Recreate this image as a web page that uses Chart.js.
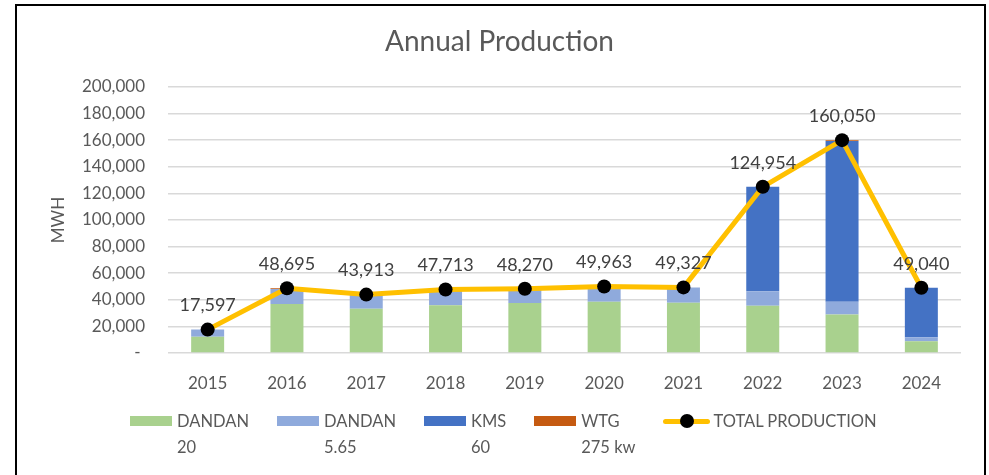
<!DOCTYPE html>
<html>
<head>
<meta charset="utf-8">
<script src="https://cdn.jsdelivr.net/npm/chart.js@4"></script>
<style>
    body { margin: 0; background: #fff; font-family: Lato, sans-serif; }
    #wrap { position: relative; width: 989px; height: 475px; overflow: hidden; }
    #frame { position: absolute; left: 15px; top: 4px; width: 967px; height: 490px; border: 2px solid #000; box-sizing: content-box; pointer-events: none; }
    #chartBox { position: absolute; left: 0; top: 0; width: 989px; height: 475px; }
    #legend { position: absolute; left: 130px; top: 410px; display: flex; gap: 28px; color: #595959; font-size: 16.5px; }
    .item { display: flex; align-items: flex-start; }
    .swatch { width: 42px; height: 10px; margin: 6px 5px 0 0; }
    .lineKey { position: relative; width: 47px; height: 22px; margin-right: 3px; }
    .lineKey .ln { position: absolute; left: 0; right: 0; top: 9px; height: 5px; background: #ffc000; border-radius: 3px; }
    .lineKey .dot { position: absolute; left: 17px; top: 4px; width: 14px; height: 14px; border-radius: 50%; background: #000; }
    .txt { line-height: 26px; margin-top: -2px; }
</style>
</head>
<body>
<div id="wrap">
    <div id="chartBox"><canvas id="prodChart"></canvas></div>
    <div id="legend"></div>
    <div id="frame"></div>
</div>
<script>
const years = ['2015', '2016', '2017', '2018', '2019', '2020', '2021', '2022', '2023', '2024'];

const dandan20 = [12300, 36900, 33300, 35900, 37550, 38500, 37800, 35500, 29000, 8800];
const dandan565 = [5297, 11295, 10613, 11813, 10720, 11463, 11527, 10900, 9500, 3000];
const kms = [0, 0, 0, 0, 0, 0, 0, 78554, 120850, 37240];
const wtg = [0, 500, 0, 0, 0, 0, 0, 0, 700, 0];
const totalProduction = [17597, 48695, 43913, 47713, 48270, 49963, 49327, 124954, 160050, 49040];

const yTicks = [0, 20000, 40000, 60000, 80000, 100000, 120000, 140000, 160000, 180000, 200000];

const textColor = '#595959';
const fontFamily = 'Lato, sans-serif';

function fmt(v) {
    return v.toLocaleString('en-US');
}

// draws the value above each point of the total line
const totalLabels = {
    id: 'totalLabels',
    afterDatasetsDraw(chart) {
        const ctx = chart.ctx;
        chart.data.datasets.forEach((ds, i) => {
            if (ds.type !== 'line') return;
            const meta = chart.getDatasetMeta(i);
            ctx.save();
            ctx.font = '18px ' + fontFamily;
            ctx.fillStyle = '#404040';
            ctx.textAlign = 'center';
            ctx.textBaseline = 'middle';
            meta.data.forEach((pt, j) => {
                ctx.fillText(fmt(ds.data[j]), pt.x, pt.y - 24);
            });
            ctx.restore();
        });
    }
};

function barSet(label, data, color) {
    return {
        type: 'bar',
        label: label,
        data: data,
        backgroundColor: color,
        stack: 'parts',
        order: 1,
        categoryPercentage: 0.8,
        barPercentage: 0.52
    };
}

const datasets = [
    {
        type: 'line',
        label: 'TOTAL PRODUCTION',
        data: totalProduction,
        borderColor: '#ffc000',
        borderWidth: 5,
        pointRadius: 7,
        pointBackgroundColor: '#000',
        pointBorderColor: '#000',
        pointBorderWidth: 0,
        tension: 0,
        stack: 'total',
        order: 0
    },
    barSet('DANDAN\n20', dandan20, '#a9d18e'),
    barSet('DANDAN\n5.65', dandan565, '#8faadc'),
    barSet('KMS\n60', kms, '#4472c4'),
    barSet('WTG\n275 kw', wtg, '#c55a11')
];

new Chart(document.getElementById('prodChart').getContext('2d'), {
    data: { labels: years, datasets: datasets },
    plugins: [totalLabels],
    options: {
        responsive: true,
        maintainAspectRatio: false,
        animation: false,
        layout: { padding: { left: 38, right: 28, top: 0, bottom: 0 } },
        plugins: {
            legend: { display: false },
            tooltip: { enabled: false },
            title: {
                display: true,
                text: 'Annual Production',
                color: textColor,
                font: { family: fontFamily, size: 28, weight: 'normal' },
                padding: { top: 25, bottom: 28.4 }
            }
        },
        scales: {
            x: {
                stacked: true,
                grid: { display: false },
                border: { display: false },
                ticks: { color: textColor, font: { family: fontFamily, size: 17 }, padding: 12 },
                afterFit: function(s) { s.height = 122; }
            },
            y: {
                stacked: true,
                min: 0,
                max: 200000,
                afterBuildTicks: function(s) { s.ticks = yTicks.map(v => ({ value: v })); },
                ticks: {
                    color: textColor,
                    font: { family: fontFamily, size: 17 },
                    padding: 23,
                    callback: function(v) { return v === 0 ? '- ' : fmt(v); }
                },
                grid: { color: '#d9d9d9', lineWidth: 1.5, drawTicks: false },
                border: { display: false },
                title: {
                    display: true,
                    text: 'MWH',
                    color: textColor,
                    font: { family: fontFamily, size: 17, weight: 'normal' },
                    padding: { top: 10, bottom: 0 }
                },
                afterFit: function(s) { s.width = 130; }
            }
        }
    }
});

// html legend built from the datasets, bars first then the line
const legendEl = document.getElementById('legend');
const legendOrder = datasets.slice(1).concat(datasets.slice(0, 1));
legendEl.innerHTML = legendOrder.map(ds => {
    const key = ds.type === 'line'
        ? '<div class="lineKey"><div class="ln"></div><div class="dot"></div></div>'
        : `<div class="swatch" style="background:${ds.backgroundColor}"></div>`;
    const text = ds.label.split('\n').join('<br>');
    return `<div class="item">${key}<div class="txt">${text}</div></div>`;
}).join('');
</script>
</body>
</html>
